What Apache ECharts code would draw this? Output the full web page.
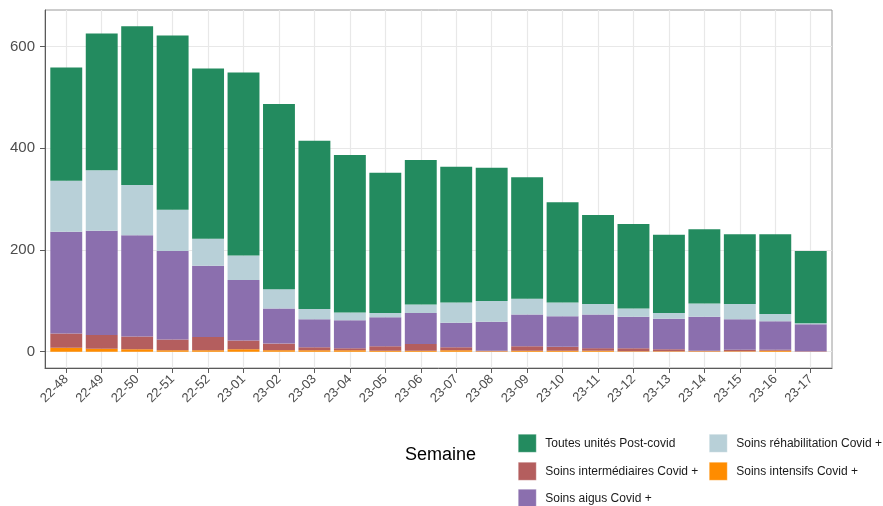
<!DOCTYPE html>
<html>
<head>
<meta charset="utf-8">
<script src="https://cdn.jsdelivr.net/npm/echarts@6/dist/echarts.min.js"></script>
<style>html,body{margin:0;padding:0;background:#fff}#c{width:883px;height:506px}</style>
</head>
<body>
<div id="c"></div>
<script>
var categories = ['22-48','22-49','22-50','22-51','22-52','23-01','23-02','23-03','23-04','23-05','23-06','23-07','23-08','23-09','23-10','23-11','23-12','23-13','23-14','23-15','23-16','23-17'];
var soinsIntensifs = [8,6,5,3,3,5,3,3,3,2,2,3,1,2,2,2,1,1,1,1,2,0];
var soinsIntermediaires = [28,27,25,21,26,17,13,6,4,9,13,6,1,9,8,5,6,4,1,3,2,1];
var soinsAigus = [200,205,199,174,140,119,69,55,55,57,61,48,57,62,60,66,62,60,67,60,56,53];
var soinsRehab = [100,119,99,81,53,48,38,20,15,8,17,40,41,31,27,21,16,11,26,30,14,2];
var postCovid = [223,269,312,343,335,360,364,331,310,276,284,267,262,239,197,175,166,154,146,137,157,142];
var yTicks = [0,200,400,600];

var FONT = 'Liberation Sans, Arial, Helvetica, sans-serif';
var idx = categories.map(function(_, i){ return i; });

var seriesDefs = [
  {name:'Soins intensifs Covid +', data: soinsIntensifs, color:'#ff8c00'},
  {name:'Soins intermédiaires Covid +', data: soinsIntermediaires, color:'#b45e5e'},
  {name:'Soins aigus Covid +', data: soinsAigus, color:'#8b6fae'},
  {name:'Soins réhabilitation Covid +', data: soinsRehab, color:'#b8d0d8'},
  {name:'Toutes unités Post-covid', data: postCovid, color:'#238b5f'}
];

var legendPos = {
  'Toutes unités Post-covid': [518, 434],
  'Soins réhabilitation Covid +': [709, 434],
  'Soins intermédiaires Covid +': [518, 462],
  'Soins intensifs Covid +': [709, 462],
  'Soins aigus Covid +': [518, 489]
};

var legends = seriesDefs.map(function(s){
  var p = legendPos[s.name];
  return {
    data: [s.name], left: p[0], top: p[1], orient: 'horizontal',
    itemWidth: 18, itemHeight: 18, icon: 'rect', padding: 0,
    itemStyle: {borderColor: 'rgba(255,255,255,0.6)', borderWidth: 0.5},
    textStyle: {fontFamily: FONT, fontSize: 12, color: '#1a1a1a', padding: [0,0,0,4]},
    selectedMode: false
  };
});

// panel: 45..832 px wide, 22.2 category units (0.6 expansion each side)
var unitPx = 787 / 22.2;
var innerPad = 0.1 * unitPx;

var chart = echarts.init(document.getElementById('c'), null, {renderer: 'canvas'});
chart.setOption({
  animation: false,
  backgroundColor: '#fff',
  title: {
    text: 'Semaine', left: 400, top: 441,
    textStyle: {fontFamily: FONT, fontSize: 18, fontWeight: 'normal', color: '#000'}
  },
  legend: legends,
  grid: [
    {left: 45, right: 51, top: 10, bottom: 138, show: true, borderColor: '#9a9a9a', borderWidth: 1, backgroundColor: 'transparent'},
    {left: 45 + innerPad, right: 51 + innerPad, top: 10, bottom: 138}
  ],
  xAxis: [{
    gridIndex: 0, type: 'value', min: -0.6, max: 21.6,
    axisLine: {show: true, onZero: false, lineStyle: {color: '#5a5a5a', width: 1}},
    axisTick: {show: true, length: 5, customValues: idx, lineStyle: {color: '#5a5a5a'}},
    axisLabel: {
      customValues: idx, rotate: 45, margin: 9,
      fontFamily: FONT, fontSize: 13, color: '#4d4d4d',
      formatter: function(v){ return categories[Math.round(v)]; }
    },
    splitLine: {show: true, lineStyle: {color: '#e8e8e8', width: 1.2}}
  }, {
    gridIndex: 1, type: 'category', data: categories, boundaryGap: true,
    axisLine: {show: false}, axisTick: {show: false}, axisLabel: {show: false}, splitLine: {show: false}
  }],
  yAxis: [{
    gridIndex: 0, type: 'value', min: -32, max: 672,
    axisLine: {show: true, onZero: false, lineStyle: {color: '#5a5a5a', width: 1}},
    axisTick: {show: true, length: 5, customValues: yTicks, lineStyle: {color: '#5a5a5a'}},
    axisLabel: {customValues: yTicks, margin: 10, fontFamily: FONT, fontSize: 15, color: '#4d4d4d'},
    splitLine: {show: true, lineStyle: {color: '#e8e8e8', width: 1.2}}
  }, {
    gridIndex: 1, type: 'value', min: -32, max: 672,
    axisLine: {show: false}, axisTick: {show: false}, axisLabel: {show: false}, splitLine: {show: false}
  }],
  series: seriesDefs.map(function(s){
    return {
      name: s.name, type: 'bar', stack: 'total', barWidth: '90%',
      xAxisIndex: 1, yAxisIndex: 1,
      data: s.data,
      itemStyle: {color: s.color, borderWidth: 0},
      emphasis: {disabled: true}
    };
  })
});
</script>
</body>
</html>
